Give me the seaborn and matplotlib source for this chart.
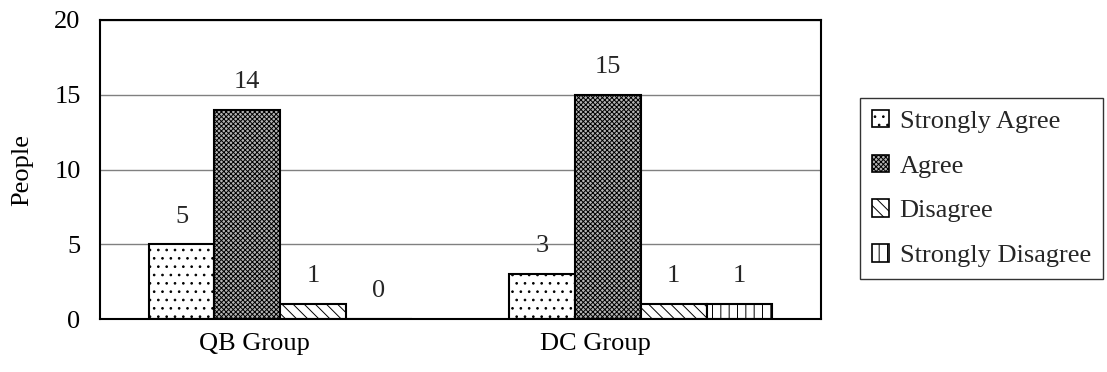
import matplotlib
matplotlib.use("Agg")
import matplotlib.pyplot as plt
import matplotlib.transforms as mtransforms
from matplotlib.patches import Patch
import seaborn as sns
import pandas as pd

groups = ["QB Group", "DC Group"]
responses = ["Strongly Agree", "Agree", "Disagree", "Strongly Disagree"]
qb_values = [5, 14, 1, 0]
dc_values = [3, 15, 1, 1]
yticks = [0, 5, 10, 15, 20]

rows = []
for g, vals in zip(groups, [qb_values, dc_values]):
    for r, v in zip(responses, vals):
        rows.append({"group": g, "response": r, "people": v})
df = pd.DataFrame(rows)

sns.set_theme(style="white")
plt.rcParams["font.family"] = ["Liberation Serif", "DejaVu Serif"]
plt.rcParams["hatch.linewidth"] = 0.7

FS = 19

fig = plt.figure(figsize=(11.07, 3.72), dpi=100)
ax = fig.add_axes([100 / 1107, 1 - 319 / 372, 721 / 1107, 299 / 372])

face = {"Strongly Agree": "white", "Agree": "#b4b4b4",
        "Disagree": "white", "Strongly Disagree": "white"}
hatches = {"Strongly Agree": "..", "Agree": "xxxxxxx",
           "Disagree": "\\\\\\", "Strongly Disagree": "||"}

sns.barplot(data=df, x="group", y="people", hue="response", order=groups,
            hue_order=responses, palette=face, edgecolor="black",
            linewidth=1.5, width=0.73, ax=ax, legend=False)

for cont, r in zip(ax.containers, responses):
    for p in cont:
        p.set_hatch(hatches[r])
        p.set_edgecolor("black")
    ax.bar_label(cont, labels=[str(int(v)) for v in cont.datavalues],
                 padding=12, fontsize=FS)

ax.set_ylim(0, 20)
ax.set_yticks(yticks)
ax.set_xlim(-0.5, 1.5)
ax.yaxis.grid(True, color="#808080", linewidth=1.0)
ax.set_axisbelow(True)
for s in ax.spines.values():
    s.set_visible(True)
    s.set_color("black")
    s.set_linewidth(1.5)
ax.tick_params(axis="y", length=0, pad=14, labelsize=FS, labelcolor="black")
ax.tick_params(axis="x", length=0, pad=10, labelsize=FS, labelcolor="black")
ax.set_xlabel("")
ax.set_ylabel("People", fontsize=FS, labelpad=15, color="black")

shifts = [-26, -45]
for lbl, dx in zip(ax.get_xticklabels(), shifts):
    lbl.set_transform(lbl.get_transform() + mtransforms.ScaledTranslation(dx / 100, 0, fig.dpi_scale_trans))

handles = [Patch(facecolor=face[r], edgecolor="black", hatch=hatches[r], linewidth=1.2)
           for r in responses]
leg = fig.legend(handles, responses, loc="upper left",
                 bbox_to_anchor=(860 / 1107, 1 - 98 / 372),
                 bbox_transform=fig.transFigure, fontsize=19, frameon=True,
                 fancybox=False, edgecolor="black", handlelength=0.65,
                 handleheight=0.65, handletextpad=0.4, labelspacing=0.82,
                 borderpad=0.45, borderaxespad=0)
leg.get_frame().set_linewidth(1.0)

fig.savefig("out.png", dpi=100)
